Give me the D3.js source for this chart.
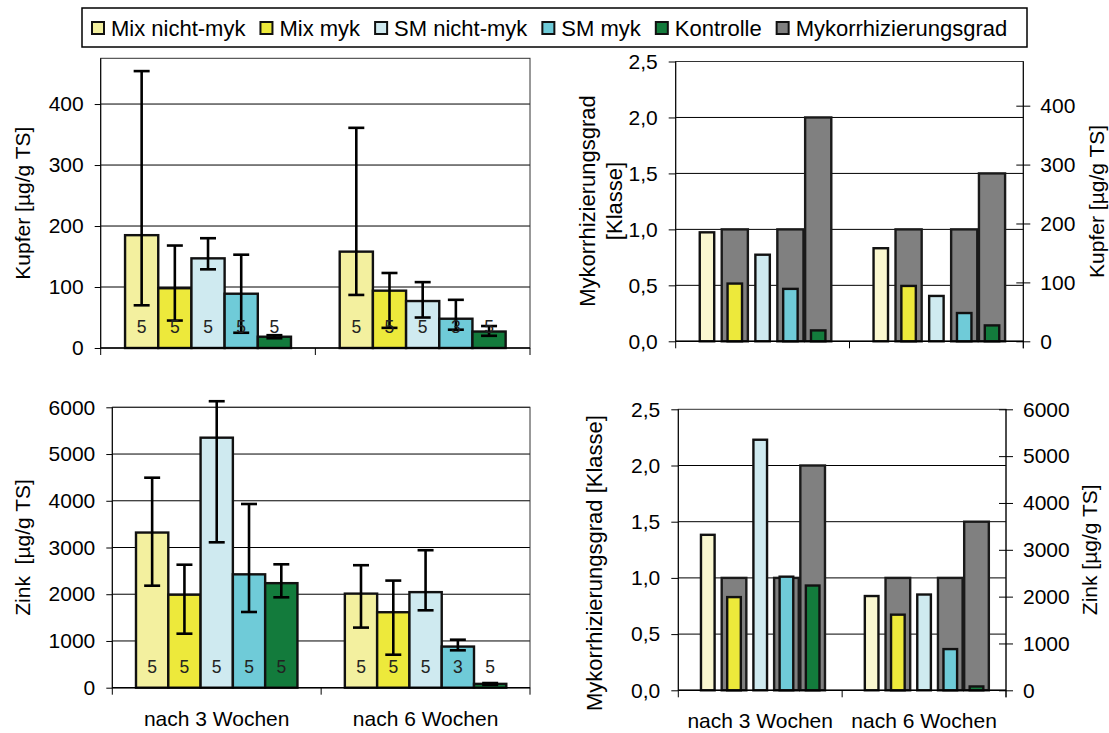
<!DOCTYPE html>
<meta charset="utf-8">
<style>
body { margin: 0; background: #fff; }
svg { display: block; font-family: "Liberation Sans", Arial, sans-serif; }
</style>
<body>
<script src="https://cdn.jsdelivr.net/npm/d3@7/dist/d3.min.js"></script>
<script>

// categories and series
var categories = ["nach 3 Wochen", "nach 6 Wochen"];
var series = ["Mix nicht-myk", "Mix myk", "SM nicht-myk", "SM myk", "Kontrolle"];
var mykoName = "Mykorrhizierungsgrad";

// Kupfer [µg/g TS], one row per category
var kupfer     = [[185, 98, 147, 89, 18.5], [158, 94, 77, 48, 27]];
var kupferLow  = [[70, 45, 129, 25, 16], [87, 33, 50, 30, 20]];
var kupferHigh = [[454, 168, 180, 153, 21], [361, 123, 108, 79, 36]];
var kupferN    = [[5, 5, 5, 5, 5], [5, 5, 5, 3, 5]];

// Zink [µg/g TS]
var zink     = [[3320, 1990, 5350, 2426, 2237], [2013, 1615, 2045, 880, 82]];
var zinkLow  = [[2183, 1156, 3111, 1620, 1934], [1286, 706, 1656, 800, 60]];
var zinkHigh = [[4494, 2632, 6130, 3931, 2640], [2621, 2292, 2942, 1027, 100]];
var zinkN    = [[5, 5, 5, 5, 5], [5, 5, 5, 3, 5]];

// Mykorrhizierungsgrad [Klasse]
var myko = [[0, 1.0, 0, 1.0, 2.0], [0, 1.0, 0, 1.0, 1.5]];

// tick labels
var kupferTicks = [0, 100, 200, 300, 400];
var zinkTicks = [0, 1000, 2000, 3000, 4000, 5000, 6000];
var klasseTicks = [0, 0.5, 1.0, 1.5, 2.0, 2.5];

var colors = ["#f3f09f", "#ede93b", "#cfeaf0", "#6fcbd8", "#137b3c"];
var colorsRight = ["#faf7d0", "#ede93b", "#cfeaf0", "#6fcbd8", "#137b3c"];
var mykoColor = "#808080";

var width = 1109, height = 733;
var fontSize = 21;

var svg = d3.select("body").append("svg")
    .attr("width", width)
    .attr("height", height);

svg.append("rect").attr("width", width).attr("height", height).attr("fill", "#fff");

var de = d3.formatLocale({decimal: ",", thousands: ".", grouping: [3], currency: ["", " €"]});
var fmtKlasse = de.format(".1f");

function rows(values, low, high, n) {
  var out = [];
  categories.forEach(function(c, i) {
    series.forEach(function(s, j) {
      out.push({c: c, s: s, j: j, v: values[i][j],
                lo: low ? low[i][j] : null, hi: high ? high[i][j] : null, n: n ? n[i][j] : null});
    });
  });
  return out;
}

function frame(g, box, y, gridTicks) {
  g.append("g").selectAll("line")
      .data(gridTicks)
    .join("line")
      .attr("x1", box.left).attr("x2", box.right)
      .attr("y1", function(d) { return y(d); }).attr("y2", function(d) { return y(d); })
      .attr("stroke", "#000").attr("stroke-width", 1);
  g.append("rect")
      .attr("x", box.left).attr("y", box.top)
      .attr("width", box.right - box.left).attr("height", box.bottom - box.top)
      .attr("fill", "none").attr("stroke", "#333").attr("stroke-width", 1);
}

function xAxis(g, box, x0, showLabels) {
  var edges = [box.left, x0(categories[1]), box.right];
  g.append("line")
      .attr("x1", box.left).attr("x2", box.right)
      .attr("y1", box.bottom).attr("y2", box.bottom)
      .attr("stroke", "#000").attr("stroke-width", 1.5);
  g.append("g").selectAll("line")
      .data(edges)
    .join("line")
      .attr("x1", function(d) { return d; }).attr("x2", function(d) { return d; })
      .attr("y1", box.bottom).attr("y2", box.bottom + 7)
      .attr("stroke", "#000");
  if (showLabels) {
    g.append("g").selectAll("text")
        .data(categories)
      .join("text")
        .attr("x", function(d) { return x0(d) + x0.bandwidth() / 2; })
        .attr("y", box.bottom + 38)
        .attr("text-anchor", "middle")
        .attr("font-size", fontSize)
        .text(function(d) { return d; });
  }
}

function styleAxis(sel) {
  sel.select(".domain").remove();
  sel.selectAll(".tick line").attr("stroke", "#000");
  sel.selectAll(".tick text").attr("font-size", fontSize).attr("fill", "#000")
      .attr("font-family", "Liberation Sans, Arial, sans-serif");
}

function vLabel(g, lines, cx, cy, size) {
  var t = g.append("text")
      .attr("transform", "translate(" + cx + "," + cy + ") rotate(-90)")
      .attr("text-anchor", "middle")
      .attr("font-size", size)
      .style("white-space", "pre");
  lines.forEach(function(l, i) {
    t.append("tspan").attr("x", 0)
        .attr("dy", i === 0 ? (0.35 - (lines.length - 1) * 0.62) + "em" : "1.24em")
        .text(l);
  });
}

// left panels: bars with error bars and n labels
function barPanel(box, values, low, high, n, yMax, ticks, label, labelX, showX) {
  var g = svg.append("g");
  var x0 = d3.scaleBand().domain(categories).range([box.left, box.right]);
  var x1 = d3.scaleBand().domain(series).range([0, x0.bandwidth()]).paddingOuter(0.734);
  var y = d3.scaleLinear().domain([0, yMax]).range([box.bottom, box.top]);

  frame(g, box, y, ticks.slice(1));

  g.append("g")
      .attr("transform", "translate(" + box.left + ",0)")
      .call(d3.axisLeft(y).tickValues(ticks).tickSize(6).tickPadding(11).tickFormat(d3.format("d")))
      .call(styleAxis);
  g.append("line")
      .attr("x1", box.left).attr("x2", box.left).attr("y1", box.top).attr("y2", box.bottom)
      .attr("stroke", "#000");

  var data = rows(values, low, high, n);
  var bw = x1.bandwidth();

  g.append("g").selectAll("rect")
      .data(data)
    .join("rect")
      .attr("x", function(d) { return x0(d.c) + x1(d.s); })
      .attr("y", function(d) { return y(d.v); })
      .attr("width", bw)
      .attr("height", function(d) { return y(0) - y(d.v); })
      .attr("fill", function(d) { return colors[d.j]; })
      .attr("stroke", "#111").attr("stroke-width", 2.4);

  var err = g.append("g").attr("stroke", "#000").attr("stroke-width", 2.6);
  data.forEach(function(d) {
    var cx = x0(d.c) + x1(d.s) + bw / 2;
    err.append("line").attr("x1", cx).attr("x2", cx).attr("y1", y(d.lo)).attr("y2", y(d.hi));
    err.append("line").attr("x1", cx - 8).attr("x2", cx + 8).attr("y1", y(d.lo)).attr("y2", y(d.lo));
    err.append("line").attr("x1", cx - 8).attr("x2", cx + 8).attr("y1", y(d.hi)).attr("y2", y(d.hi));
  });

  g.append("g").selectAll("text")
      .data(data)
    .join("text")
      .attr("x", function(d) { return x0(d.c) + x1(d.s) + bw / 2; })
      .attr("y", box.bottom - 15)
      .attr("text-anchor", "middle")
      .attr("font-size", 17.5)
      .attr("fill", "#222")
      .text(function(d) { return d.n; });

  xAxis(g, box, x0, showX);
  vLabel(g, [label], labelX, (box.top + box.bottom) / 2, fontSize);
}

// right panels: Mykorrhizierungsgrad (left axis) with metal values (right axis)
function mykoPanel(box, values, yMax2, ticks2, label2, label2X, leftLines, leftX, leftY, showX) {
  var g = svg.append("g");
  var x0 = d3.scaleBand().domain(categories).range([box.left, box.right]);
  var x1 = d3.scaleBand().domain(series).range([0, x0.bandwidth()]).paddingOuter(0.625);
  var y = d3.scaleLinear().domain([0, 2.5]).range([box.bottom, box.top]);
  var y2 = d3.scaleLinear().domain([0, yMax2]).range([box.bottom, box.top]);

  frame(g, box, y, klasseTicks.slice(1, -1));

  g.append("g")
      .attr("transform", "translate(" + box.left + ",0)")
      .call(d3.axisLeft(y).tickValues(klasseTicks).tickSize(7).tickPadding(11).tickFormat(fmtKlasse))
      .call(styleAxis);
  g.append("line")
      .attr("x1", box.left).attr("x2", box.left).attr("y1", box.top).attr("y2", box.bottom)
      .attr("stroke", "#000");

  g.append("g")
      .attr("transform", "translate(" + box.right + ",0)")
      .call(d3.axisRight(y2).tickValues(ticks2).tickSize(7).tickPadding(10).tickFormat(d3.format("d")))
      .call(styleAxis)
      .call(function(a) { a.selectAll(".tick line").attr("x1", -7); });
  g.append("line")
      .attr("x1", box.right).attr("x2", box.right).attr("y1", box.top).attr("y2", box.bottom + 7)
      .attr("stroke", "#000");

  var slot = x1.bandwidth();
  var mk = rows(myko).filter(function(d) { return d.v > 0; });
  g.append("g").selectAll("rect")
      .data(mk)
    .join("rect")
      .attr("x", function(d) { return x0(d.c) + x1(d.s) + slot * 0.03; })
      .attr("y", function(d) { return y(d.v); })
      .attr("width", slot * 0.94)
      .attr("height", function(d) { return y(0) - y(d.v); })
      .attr("fill", mykoColor)
      .attr("stroke", "#1a1a1a").attr("stroke-width", 2.4);

  var data = rows(values);
  g.append("g").selectAll("rect")
      .data(data)
    .join("rect")
      .attr("x", function(d) { return x0(d.c) + x1(d.s) + slot * 0.24; })
      .attr("y", function(d) { return y2(d.v); })
      .attr("width", slot * 0.52)
      .attr("height", function(d) { return y2(0) - y2(d.v); })
      .attr("fill", function(d) { return colorsRight[d.j]; })
      .attr("stroke", "#111").attr("stroke-width", 2.4);

  xAxis(g, box, x0, showX);
  vLabel(g, leftLines, leftX, leftY, 22);
  vLabel(g, [label2], label2X, (box.top + box.bottom) / 2, fontSize);
}

barPanel({left: 100.7, right: 530, top: 58.3, bottom: 348}, kupfer, kupferLow, kupferHigh, kupferN,
         475, kupferTicks, "Kupfer [µg/g TS]", 23, false);
barPanel({left: 112.3, right: 530, top: 407.3, bottom: 687.7}, zink, zinkLow, zinkHigh, zinkN,
         6000, zinkTicks, "Zink  [µg/g TS]", 23, true);

mykoPanel({left: 675.7, right: 1023.3, top: 61.5, bottom: 341.3}, kupfer, 475, kupferTicks,
          "Kupfer [µg/g TS]", 1097, [mykoName, "[Klasse]"], 601, 201, false);
mykoPanel({left: 678.3, right: 1006, top: 409.3, bottom: 690.3}, zink, 6000, zinkTicks,
          "Zink [µg/g TS]", 1090, [mykoName + " [Klasse]"], 594.5, 563, true);

// legend
var legendItems = series.concat([mykoName]);
var legendColors = colors.concat([mykoColor]);
var legend = svg.append("g");
legend.append("rect")
    .attr("x", 82).attr("y", 8).attr("width", 945).attr("height", 39)
    .attr("fill", "#fff").attr("stroke", "#000").attr("stroke-width", 1.5);

var lx = 92;
legendItems.forEach(function(name, i) {
  legend.append("rect")
      .attr("x", lx).attr("y", 22).attr("width", 12).attr("height", 12)
      .attr("fill", legendColors[i]).attr("stroke", "#111").attr("stroke-width", 2);
  var t = legend.append("text")
      .attr("x", lx + 19).attr("y", 35.5)
      .attr("font-size", 22)
      .text(name);
  lx += 19 + t.node().getComputedTextLength() + 15;
});

</script>
</body>
